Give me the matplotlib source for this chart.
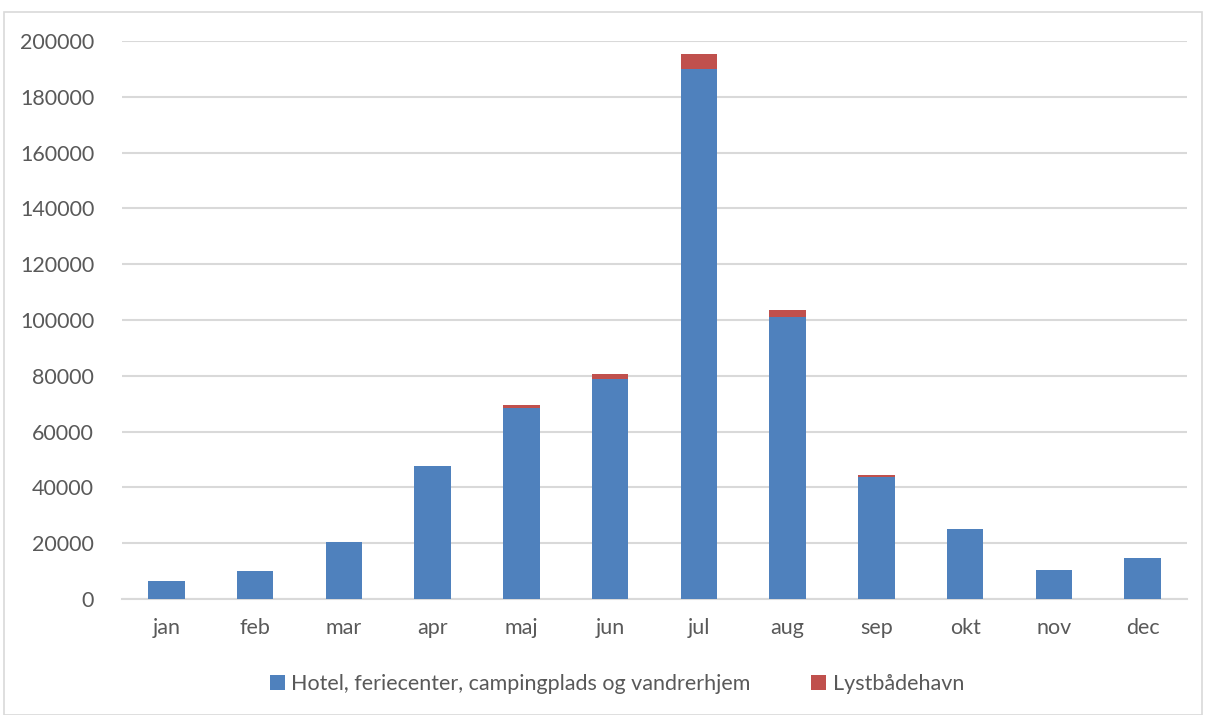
import matplotlib

matplotlib.use("Agg")

import matplotlib.pyplot as plt  # noqa: E402
import numpy as np               # noqa: E402
from matplotlib.patches import Rectangle  # noqa: E402

months = ["jan", "feb", "mar", "apr", "maj", "jun",
          "jul", "aug", "sep", "okt", "nov", "dec"]
hotel = [6300, 10000, 20400, 47600, 68600, 78900,
         190100, 101100, 43700, 25200, 10300, 14700]
lystbaad = [0, 0, 0, 0, 800, 1600,
            5200, 2400, 700, 0, 0, 0]
labels = ["Hotel, feriecenter, campingplads og vandrerhjem", "Lystbådehavn"]
yticks = list(range(0, 200001, 20000))

BLUE = "#4F81BD"
RED = "#C0504D"
GRID = "#D9D9D9"
TXT = "#595959"

plt.rcParams["font.family"] = ["Lato", "DejaVu Sans"]

fig = plt.figure(figsize=(12.06, 7.15), dpi=100)
ax = fig.add_axes([122 / 1206, 1 - 599 / 715, (1187 - 122) / 1206, (599 - 41) / 715])

x = np.arange(len(months))
ax.bar(x, hotel, width=0.41, color=BLUE, label=labels[0], zorder=3)
ax.bar(x, lystbaad, width=0.41, bottom=hotel, color=RED, label=labels[1], zorder=3)

ax.set_xlim(-0.5, len(months) - 0.5)
ax.set_ylim(0, 200000)
ax.set_yticks(yticks)
ax.set_yticklabels([str(v) for v in yticks])
ax.set_xticks(x)
ax.set_xticklabels(months)
ax.yaxis.grid(True, color=GRID, linewidth=1.5, zorder=0)
for s in ["top", "right", "left"]:
    ax.spines[s].set_visible(False)
ax.spines["bottom"].set_color(GRID)
ax.spines["bottom"].set_linewidth(1.5)
ax.tick_params(axis="both", length=0, colors=TXT, labelsize=15.5)
ax.tick_params(axis="y", pad=20)
ax.tick_params(axis="x", pad=14)

fig.legend(loc="center", bbox_to_anchor=(617 / 1206, 1 - 684 / 715), ncol=2,
           frameon=False, fontsize=15.5, labelcolor=TXT, handlelength=0.7,
           handleheight=0.7, handletextpad=0.3, columnspacing=2.8)

# light chart-area border
fig.add_artist(Rectangle((4 / 1206, 0), 1 - 8 / 1206, 1 - 12 / 715,
                         transform=fig.transFigure, fill=False,
                         edgecolor=GRID, linewidth=1.2))

fig.savefig("out.png", dpi=100)
plt.close(fig)
